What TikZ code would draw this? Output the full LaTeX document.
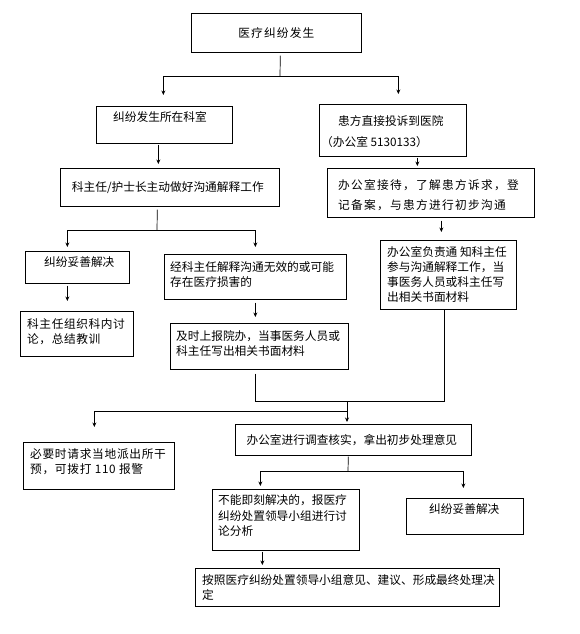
\documentclass[tikz,border=0pt]{standalone}
\usepackage{fontspec}
\setmainfont{Noto Sans CJK SC}
\usetikzlibrary{arrows.meta}
\tikzset{
  box/.style={draw=black, line width=0.7pt, inner sep=0pt, anchor=north west},
  txt/.style={inner sep=0pt, anchor=north west, align=left, font=\fontsize{11.7}{15}\selectfont},
  ctxt/.style={inner sep=0pt, anchor=center, font=\fontsize{11.7}{15}\selectfont},
  con/.style={draw=black, line width=0.7pt},
  arr/.style={con, -{Stealth[length=4.5pt,width=4pt]}},
}
\begin{document}
\begin{tikzpicture}[x=1pt,y=-1pt]
\fill[white] (0,0) rectangle (579,634);
\useasboundingbox (0,0) rectangle (579,634);

% boxes
\node[box, minimum width=170pt, minimum height=39pt] (b1) at (191,13) {};
\node[box, minimum width=136pt, minimum height=37pt] (b2) at (96,106) {};
\node[box, minimum width=147pt, minimum height=52pt] (b3) at (319,104) {};
\node[box, minimum width=219pt, minimum height=38pt] (b4) at (60,168) {};
\node[box, minimum width=207pt, minimum height=49pt] (b5) at (327,168) {};
\node[box, minimum width=104pt, minimum height=32pt] (L1) at (25,251) {};
\node[box, minimum width=182pt, minimum height=45pt] (M1) at (164,254) {};
\node[box, minimum width=136pt, minimum height=69pt] (R1) at (380,240) {};
\node[box, minimum width=113pt, minimum height=45pt] (L2) at (20,311) {};
\node[box, minimum width=178pt, minimum height=46pt] (M2) at (170,323) {};
\node[box, minimum width=151pt, minimum height=47pt] (L3) at (23,442) {};
\node[box, minimum width=236pt, minimum height=31pt] (C3) at (235,424) {};
\node[box, minimum width=147pt, minimum height=61pt] (D1) at (212,489) {};
\node[box, minimum width=117pt, minimum height=36pt] (D2) at (406,498) {};
\node[box, minimum width=304pt, minimum height=38pt] (F) at (195,568) {};

% texts
\node[ctxt, font={\fontsize{11.7}{15}\selectfont\addfontfeatures{LetterSpace=10}}] (t1) at (b1.center) {医疗纠纷发生};
\node[txt] (t2) at (113,111.8) {纠纷发生所在科室};
\node[txt] (t3a) at (338,115.8) {患方直接投诉到医院};
\node[txt] (t3b) at (321,135.8) {（办公室 5130133）};
\node[ctxt] (t4) at ([xshift=-2pt]b4.center) {科主任/护士长主动做好沟通解释工作};
\node[txt, font={\fontsize{11.7}{20}\selectfont\addfontfeatures{LetterSpace=11}}] (t5) at (338,179.8) {办公室接待，了解患方诉求，登\\记备案，与患方进行初步沟通};
\node[txt] (tL1) at (44,256.8) {纠纷妥善解决};
\node[txt] (tM1) at (170,261.8) {经科主任解释沟通无效的或可能\\存在医疗损害的};
\node[txt] (tR1) at (387,246.8) {办公室负责通 知科主任\\参与沟通解释工作，当\\事医务人员或科主任写\\出相关书面材料};
\node[txt, font={\fontsize{11.7}{14.5}\selectfont\addfontfeatures{LetterSpace=5}}] (tL2) at (27,318.8) {科主任组织科内讨\\论，总结教训};
\node[txt] (tM2) at (176,330.8) {及时上报院办，当事医务人员或\\科主任写出相关书面材料};
\node[txt, font={\fontsize{11.7}{15}\selectfont\addfontfeatures{LetterSpace=6}}] (tL3) at (30,448.8) {必要时请求当地派出所干\\预，可拨打 110 报警};
\node[ctxt] (tC3) at ([xshift=-1.5pt]C3.center) {办公室进行调查核实，拿出初步处理意见};
\node[txt, font={\fontsize{11.7}{15.5}\selectfont}] (tD1) at (218,494.8) {不能即刻解决的，报医疗\\纠纷处置领导小组进行讨\\论分析};
\node[txt] (tD2) at (429,503.8) {纠纷妥善解决};
\node[txt] (tF) at (202,574.8) {按照医疗纠纷处置领导小组意见、建议、形成最终处理决\\定};

% connectors
\coordinate (j1) at (280,76);
\draw[con, shorten <=3pt] ([xshift=4pt]b1.south) -- (j1);
\draw[arr, shorten >=11pt] (j1) -| ([xshift=-1pt]b2.north);
\draw[arr, shorten >=10pt] (j1) -| ([xshift=5.5pt]b3.north);

\coordinate (s2) at ([xshift=-6pt]b2.south);
\draw[arr, shorten <=1pt, shorten >=4pt] (s2) -- (s2 |- b4.north);
\coordinate (s3) at ([xshift=24.5pt]b3.south);
\draw[arr, shorten <=1pt, shorten >=2pt] (s3) -- (s3 |- b5.north);

\coordinate (s4) at ([xshift=-12.5pt]b4.south);
\coordinate (j2) at (157,230);
\draw[con, shorten <=3pt] (s4) -- (j2);
\draw[arr, shorten >=4pt] (j2) -| ([xshift=-10pt]L1.north);
\draw[arr, shorten >=7pt] (j2) -| (M1.north);

\coordinate (s5) at ([xshift=10.5pt]b5.south);
\draw[arr, shorten <=3pt, shorten >=8pt] (s5) -- (s5 |- R1.north);

\coordinate (sL1) at ([xshift=-10pt]L1.south);
\draw[arr, shorten <=2pt, shorten >=10pt] (sL1) -- (sL1 |- L2.north);
\draw[arr, shorten <=3pt, shorten >=6pt] (M1.south) -- (M1.south |- M2.north);

\coordinate (sM2) at ([xshift=-4pt]M2.south);
\coordinate (sR1) at ([xshift=-4pt]R1.south);
\coordinate (j3) at (347,401);
\draw[con, shorten <=4pt] (sM2) |- (sR1 |- j3) -- (sR1);
\coordinate (j4) at (347,411);
\draw[arr, shorten >=2pt] (j3) -- (j3 |- C3.north);
\draw[arr, shorten >=15pt] (j4) -| ([xshift=-4.5pt]L3.north);

\coordinate (sC3) at ([xshift=-5pt]C3.south);
\coordinate (j5) at (348,471);
\draw[con, shorten <=1pt] (sC3) -- (j5);
\draw[arr, shorten >=3pt] (j5) -| ([xshift=-25.5pt]D1.north);
\draw[arr, shorten >=10pt] (j5) -| ([xshift=-1.5pt]D2.north);

\coordinate (sD1) at ([xshift=-23.5pt]D1.south);
\draw[arr, shorten <=1pt, shorten >=3pt] (sD1) -- (sD1 |- F.north);
\end{tikzpicture}
\end{document}
